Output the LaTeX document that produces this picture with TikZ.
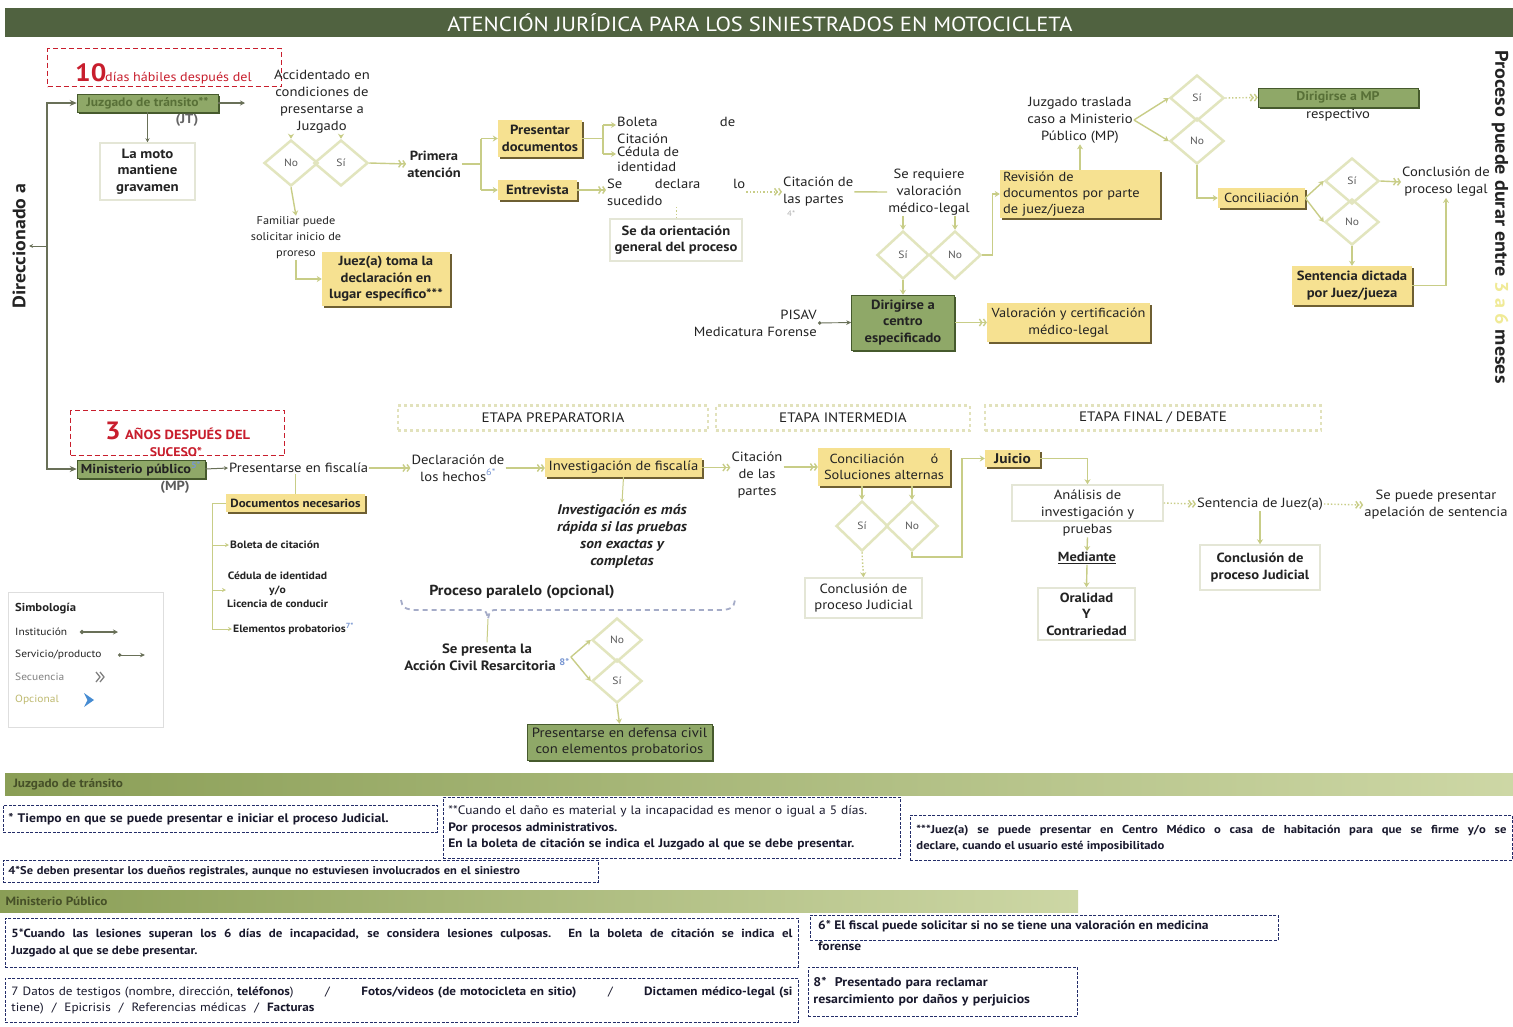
\documentclass[tikz,border=0pt]{standalone}
\usepackage{fontspec}
\setmainfont{PT Sans}[FakeStretch=1.1]
\usetikzlibrary{shapes.geometric,arrows.meta,shadows,calc}

\definecolor{titlebar}{RGB}{80,98,64}
\definecolor{gfill}{RGB}{143,168,104}
\definecolor{gdark}{RGB}{70,90,45}
\definecolor{gtext}{RGB}{40,60,25}
\definecolor{gdim}{RGB}{88,112,55}
\definecolor{yfill}{RGB}{246,225,145}
\definecolor{ydark}{RGB}{110,95,50}
\definecolor{seqc}{RGB}{200,205,135}
\definecolor{dline}{RGB}{226,229,190}
\definecolor{wline}{RGB}{228,230,214}
\definecolor{redc}{RGB}{200,30,45}
\definecolor{navy}{RGB}{35,45,105}
\definecolor{ink}{RGB}{35,35,35}
\definecolor{notec}{RGB}{25,25,45}
\definecolor{stagec}{RGB}{226,226,188}
\definecolor{barA}{RGB}{138,158,86}
\definecolor{barB}{RGB}{205,215,165}
\definecolor{bartext}{RGB}{70,80,40}
\definecolor{instc}{RGB}{105,112,88}
\definecolor{lblue}{RGB}{120,150,210}
\definecolor{paley}{RGB}{240,234,150}
\definecolor{bracec}{RGB}{165,172,200}
\definecolor{legc}{RGB}{222,222,222}
\definecolor{optc}{RGB}{190,185,110}
\definecolor{diatext}{RGB}{90,90,90}
\definecolor{optblue}{RGB}{70,140,210}

\tikzset{
  txt/.style={font=\fontsize{13.3}{17}\selectfont, align=center, inner sep=1pt, text=ink},
  btxt/.style={txt, font=\bfseries\fontsize{13.2}{17}\selectfont},
  gbox/.style={draw=gdark, line width=0.5pt, fill=gfill, text=gtext, align=center, inner sep=1pt,
    font=\bfseries\fontsize{13.3}{16.5}\selectfont,
    drop shadow={shadow xshift=1.8pt, shadow yshift=-1.8pt, fill=gdark, opacity=1}},
  ybox/.style={fill=yfill, text=ink, align=center, inner sep=1pt,
    font=\bfseries\fontsize{13.3}{16.5}\selectfont,
    drop shadow={shadow xshift=1.8pt, shadow yshift=-1.8pt, fill=ydark, opacity=1}},
  wbox/.style={draw=wline, line width=1.5pt, fill=white, text=ink, align=center, inner sep=1pt,
    font=\fontsize{13.3}{16.5}\selectfont},
  dia/.style={diamond, draw=dline, line width=2.5pt, minimum width=54pt, minimum height=46pt,
    inner sep=0pt, text=diatext, font=\fontsize{10.5}{12}\selectfont},
  link/.style={draw=seqc, line width=1.4pt},
  lar/.style={link, -{Stealth[length=5pt,width=6pt]}},
  seq/.style={link, -{Straight Barb[length=2.5pt,width=7pt] Straight Barb[length=2.5pt,width=7pt]}},
  inst/.style={draw=instc, line width=1.6pt},
  serv/.style={draw=instc, line width=0.9pt, {Circle[length=3.5pt]}-{Stealth[length=5pt,width=4.5pt]}},
  stagebox/.style={draw=stagec, line width=2.5pt, dash pattern=on 3pt off 3pt,
    font=\fontsize{13.7}{15}\selectfont, text=ink, inner sep=0pt},
  reddash/.style={draw=redc, line width=1.3pt, dash pattern=on 5pt off 3pt, inner sep=0pt},
  notebox/.style={draw=navy, line width=0.9pt, dash pattern=on 3pt off 1.5pt, anchor=north west,
    inner xsep=5pt, inner ysep=0pt, text=notec, align=left,
    font=\bfseries\fontsize{12.2}{16.5}\selectfont},
  legtext/.style={anchor=west, inner sep=0pt, font=\fontsize{10.4}{12}\selectfont, text=ink},
  smalltxt/.style={txt, font=\bfseries\fontsize{10.6}{13}\selectfont},
}

\begin{document}
\begin{tikzpicture}[x=1pt,y=-1pt]
\useasboundingbox (0,0) rectangle (1513,1026);
\fill[white] (0,0) rectangle (1513,1026);

% ---------- title bar ----------
\fill[titlebar] (5,8) rectangle (1513,37);
\node[font=\fontsize{20.5}{22}\selectfont, text=white] (title) at (760,22.5)
  {ATENCIÓN JURÍDICA PARA LOS SINIESTRADOS EN MOTOCICLETA};

\coordinate (rail) at (47,0);

% ---------- Juzgado de tránsito branch ----------
\node[reddash, anchor=north west, minimum width=234pt, minimum height=38pt] (plazo1) at (47,48) {};
\node[anchor=base west, text=redc, font=\bfseries\fontsize{25}{25}\selectfont, inner sep=0pt] (diez) at (75,81) {10};
\node[anchor=base west, text=redc, font=\fontsize{12.8}{14}\selectfont, inner sep=0pt] (dieztxt) at (105,81) {días hábiles después del};

\node[gbox, minimum width=141pt, minimum height=18pt, text=gdim, font=\bfseries\fontsize{12.3}{13}\selectfont] (jt) at (147.5,103) {Juzgado de tránsito**};
\node[btxt, text=ink!70] (jtab) at (187,120) {(JT)};
\node[wbox, minimum width=95pt, minimum height=57pt, font=\bfseries\fontsize{13.5}{16.5}\selectfont] (moto) at (147.5,171.5) {La moto\\mantiene\\gravamen};
\draw[instc, line width=1pt, -{Stealth[length=4pt,width=4pt]}] (jt.south) -- (moto.north);
\coordinate (jtout) at (245,103);
\draw[inst, line width=1.2pt, -{Stealth[length=5pt,width=5pt]}] (jt.east) -- (jtout);

\node[rotate=90, font=\bfseries\fontsize{18}{20}\selectfont, text=ink] (dirigido) at (19,246) {Direccionado a};

\node[txt] (acc) at (322,102) {Accidentado en\\condiciones de\\presentarse a\\Juzgado};
\node[dia] (dno) at (291,163) {No};
\node[dia] (dsi) at (341,163) {Sí};
\draw[lar] (dno.north |- acc.south) -- (dno.north);
\draw[lar] (dsi.north |- acc.south) -- (dsi.north);

\node[btxt] (pa) at (434,164) {Primera\\atención};
\draw[seq] (dsi.east) -- (pa.west);

\node[txt, font=\fontsize{11.2}{16}\selectfont] (fam) at (296,238) {Familiar puede\\solicitar inicio de\\proreso};
\draw[lar] (dno.south) -- (fam.north);
\node[ybox, minimum width=128pt, minimum height=54pt] (jz) at (386,279) {Juez(a) toma la\\declaración en\\lugar específico***};
\draw[lar] (fam.south) |- (jz.west);

% first attention: documents and interview
\coordinate (br1) at (481,0);
\node[ybox, minimum width=84pt, minimum height=37pt] (pd) at (540,138.5) {Presentar\\documentos};
\node[ybox, minimum width=79pt, minimum height=20pt] (ent) at (537.5,190) {Entrevista};
\draw[link] (pa.east) -- (pa.east -| br1);
\draw[link] (br1 |- pd.west) -- (br1 |- ent.west);
\draw[lar] (br1 |- pd.west) -- (pd.west);
\draw[lar] (br1 |- ent.west) -- (ent.west);

\coordinate (br2) at (603,0);
\node[txt, anchor=north west, text width=118pt, align=left] (bol) at (616,116) {Boleta\hfill de\\Citación};
\node[txt, anchor=north west, align=left, font=\fontsize{13.3}{15}\selectfont] (ced) at (616,146) {Cédula de\\identidad};
\coordinate (bolp) at ($(bol.north west)+(0,9)$);
\coordinate (cedp) at ($(ced.north west)+(0,8)$);
\draw[link] (pd.east) -- (pd.east -| br2);
\draw[link] (br2 |- bolp) -- (br2 |- cedp);
\draw[lar] (br2 |- bolp) -- (bolp);
\draw[lar] (br2 |- cedp) -- (cedp);

\node[txt, anchor=north west, text width=138pt, align=left] (sd) at (606,178) {Se\hfill declara\hfill lo\\sucedido};
\draw[seq] (ent.east) -- (ent.east -| sd.west);
\node[wbox, minimum width=132pt, minimum height=42pt, font=\bfseries\fontsize{13.3}{16.5}\selectfont] (ori) at (676,240) {Se da orientación\\general del proceso};
\draw[link, dotted, line width=1pt] (ori.north |- sd.south) -- (ori.north);

\node[txt, anchor=north west, align=left] (cit) at (782,176) {Citación de\\las partes};
\node[txt, text=ink!35, font=\fontsize{8}{9}\selectfont, anchor=west] (cit4) at (786,214) {4*};
\draw[seq, dotted] (sd.east |- cit.west) -- (cit.west);

\node[txt] (req) at (929,192) {Se requiere\\valoración\\médico-legal};
\draw[link] (cit.east) -- (req.west);
\node[dia, minimum width=52pt, minimum height=48pt] (rsi) at (903,255) {Sí};
\node[dia, minimum width=52pt, minimum height=48pt] (rno) at (955,255) {No};
\draw[lar] (rsi.north |- req.south) -- (rsi.north);
\draw[lar] (rno.north |- req.south) -- (rno.north);

\node[ybox, minimum width=160pt, minimum height=48pt, text width=154pt, align=left, font=\fontsize{13.1}{16}\selectfont] (rev) at (1080,194) {Revisión de\\documentos por parte\\de juez/jueza};
\draw[lar] (rno.east) -- ++(10,0) |- (rev.west);

\node[gbox, minimum width=103pt, minimum height=55pt, text=ink] (dcs) at (903,322.5) {Dirigirse a\\centro\\especificado};
\draw[lar] (rsi.south) -- (dcs.north);
\node[txt, anchor=east, align=right] (pisav) at (818,323) {PISAV\\Medicatura Forense};
\draw[serv] (pisav.east) -- (dcs.west);
\node[ybox, minimum width=163pt, minimum height=39pt, font=\fontsize{13.1}{16.5}\selectfont] (val) at (1068.5,322.5) {Valoración y certificación\\médico-legal};
\draw[seq] (dcs.east) -- (val.west);

\node[txt] (jtr) at (1080,120) {Juzgado traslada\\caso a Ministerio\\Público (MP)};
\draw[lar] (rev.north) -- (jtr.south);
\node[dia] (tsi) at (1197,98) {Sí};
\node[dia] (tno) at (1197,141) {No};
\draw[lar] (jtr.east) -- (tsi.west);
\draw[lar] (jtr.east) -- (tno.west);
\node[gbox, minimum width=160pt, minimum height=19pt, text=gdim, font=\bfseries\fontsize{12.6}{13}\selectfont] (mpr) at (1338,97.5) {Dirigirse a MP};
\node[txt] (mprr) at (1338,115) {respectivo};
\draw[seq, dotted] (tsi.east) -- (mpr.west);

\node[ybox, minimum width=87pt, minimum height=20pt, font=\fontsize{13.1}{14}\selectfont] (con) at (1261.5,198) {Conciliación};
\draw[lar] (tno.south) |- (con.west);
\node[dia] (csi) at (1352,181) {Sí};
\node[dia] (cno) at (1352,222) {No};
\draw[lar] (con.east) -- (csi.west);
\draw[lar] (con.east) -- (cno.west);
\node[txt] (cpl) at (1446,182) {Conclusión de\\proceso legal};
\draw[seq] (csi.east) -- (cpl.west);
\node[ybox, minimum width=120pt, minimum height=39pt] (sen) at (1352,285.5) {Sentencia dictada\\por Juez/jueza};
\draw[lar] (cno.south) -- (sen.north);
\draw[lar] (sen.east) -| (cpl.south);

\node[rotate=-90, font=\bfseries\fontsize{18.3}{20}\selectfont, text=ink] (dur) at (1500,217)
  {Proceso puede durar entre \textcolor{paley}{3 a 6} meses};

% ---------- Ministerio Público branch ----------
\node[reddash, anchor=north west, minimum width=214pt, minimum height=45pt] (plazo2) at (70,410) {};
\node[anchor=base west, text=redc, font=\bfseries\fontsize{25}{25}\selectfont, inner sep=0pt] (tres) at (105,439) {3};
\node[anchor=base west, text=redc, font=\bfseries\fontsize{13.2}{14}\selectfont, inner sep=0pt] (tresa) at (125,439) {AÑOS DESPUÉS DEL};
\node[text=redc, font=\bfseries\fontsize{12.5}{14}\selectfont, inner sep=0pt] (suc) at (176,452) {SUCESO*};

\node[gbox, minimum width=128pt, minimum height=18pt, text=ink, font=\bfseries\fontsize{13}{13}\selectfont] (mp) at (141,469) {Ministerio público\textsuperscript{\color{lblue}5*}};
\node[btxt, text=ink!75] (mpab) at (175,487) {(MP)};

\draw[inst, {Stealth[length=7pt,width=6pt]}-{Stealth[length=7pt,width=6pt]}] (jt.west) -- (jt.west -| rail) |- (mp.west);
\draw[instc, line width=1pt, -{Stealth[length=4pt,width=4pt]}] (rail |- dirigido.center) -- (dirigido.south);

\node[txt, anchor=west] (pf) at (228,468) {Presentarse en fiscalía};
\draw[instc, line width=1pt, -{Stealth[length=4pt,width=4pt]}] (mp.east) -- (pf.west);
\node[txt] (dh) at (458,468) {Declaración de\\los hechos\textsuperscript{\color{lblue}6*}};
\draw[seq] (pf.east) -- (dh.west);

\node[ybox, minimum width=139pt, minimum height=18pt, font=\bfseries\fontsize{11.8}{13}\selectfont] (dn) at (295.5,503) {Documentos necesarios};
\draw[link, line width=1pt] (dn.north |- pf.south) -- (dn.north);
\coordinate (br3) at (212,0);
\node[smalltxt, anchor=west] (bc) at (229,545) {Boleta de citación};
\node[smalltxt, anchor=west, font=\bfseries\fontsize{10.6}{14}\selectfont] (cid) at (226,590) {Cédula de identidad\\y/o\\Licencia de conducir};
\node[smalltxt, anchor=west] (ep) at (232,629) {Elementos probatorios\textsuperscript{\color{lblue}7*}};
\draw[link, line width=1pt] (dn.west) -- (dn.west -| br3) -- (br3 |- ep.west);
\draw[link, line width=1pt, -{Stealth[length=4pt,width=4pt]}] (br3 |- bc.west) -- (bc.west);
\draw[link, line width=1pt, -{Stealth[length=4pt,width=4pt]}] (br3 |- cid.west) -- (cid.west);
\draw[link, line width=1pt, -{Stealth[length=4pt,width=4pt]}] (br3 |- ep.west) -- (ep.west);

\node[stagebox, minimum width=310pt, minimum height=25pt] (s1) at (553,418) {ETAPA PREPARATORIA};
\node[stagebox, minimum width=254pt, minimum height=25pt] (s2) at (843,418) {ETAPA INTERMEDIA};
\node[stagebox, minimum width=336pt, minimum height=25pt] (s3) at (1153,418) {ETAPA FINAL / DEBATE};

\node[ybox, minimum width=157pt, minimum height=19pt, font=\fontsize{13.3}{14}\selectfont] (inv) at (623.5,467.5) {Investigación de fiscalía};
\draw[seq] (dh.east) -- (dh.east -| inv.west);
\node[txt] (cit2) at (757,475) {Citación\\de las\\partes};
\draw[seq] (inv.east) -- (inv.east -| cit2.west);
\node[ybox, minimum width=132pt, minimum height=38pt, font=\fontsize{13.1}{16.5}\selectfont] (csa) at (884,467) {Conciliación\qquad ó\\Soluciones alternas};
\draw[seq] (cit2.east |- csa.west) -- (csa.west);

\node[txt, font=\bfseries\itshape\fontsize{14}{17}\selectfont] (ita) at (622,536) {Investigación es más\\rápida si las pruebas\\son exactas y\\completas};
\draw[link, line width=1pt, -{Stealth[length=4pt,width=4pt]}] (inv.south) -- (ita.north);

\node[dia, minimum width=52pt, minimum height=50pt] (msi) at (862,526) {Sí};
\node[dia, minimum width=52pt, minimum height=50pt] (mno) at (912,526) {No};
\draw[lar] (msi.north |- csa.south) -- (msi.north);
\draw[lar] (mno.north |- csa.south) -- (mno.north);
\node[wbox, minimum width=117pt, minimum height=40pt] (cpj) at (863.5,598) {Conclusión de\\proceso Judicial};
\draw[lar, dotted] (msi.south) -- (cpj.north);

\coordinate (br4) at (962,557);
\node[ybox, minimum width=55pt, minimum height=17pt, font=\bfseries\fontsize{14}{14}\selectfont] (jui) at (1012.5,458.5) {Juicio};
\draw[lar] (mno.south) |- (br4) |- (jui.west);

\node[wbox, minimum width=151pt, minimum height=36pt] (ana) at (1087.5,503) {};
\node[txt] (anat) at (1087.5,513) {Análisis de\\investigación y\\pruebas};
\draw[lar] (jui.east) -| (ana.north);
\node[txt] (sj) at (1260,504) {Sentencia de Juez(a)};
\draw[seq, dotted] (ana.east) -- (sj.west);
\node[txt] (ap) at (1436,505) {Se puede presentar\\apelación de sentencia};
\draw[seq, dotted] (sj.east) -- (ap.west);
\node[wbox, minimum width=120pt, minimum height=45pt, font=\bfseries\fontsize{13.3}{16.5}\selectfont] (cpj2) at (1260,567.5) {Conclusión de\\proceso Judicial};
\draw[lar] (sj.south) -- (cpj2.north);
\node[btxt] (med) at (1087,558) {\underline{Mediante}};
\draw[lar] (anat.south) -- (med.north);
\node[wbox, minimum width=97pt, minimum height=52pt, font=\bfseries\fontsize{13.3}{16.5}\selectfont] (ora) at (1086.5,614) {Oralidad\\Y\\Contrariedad};
\draw[lar] (med.south) -- (ora.north);

% parallel civil action
\node[font=\bfseries\fontsize{14.5}{16}\selectfont, text=ink] (ppo) at (522,592) {Proceso paralelo (opcional)};
\coordinate (btip) at (488,619);
\draw[bracec, line width=1.8pt, dash pattern=on 5pt off 4pt]
  (401,600) .. controls (403,608) .. (413,610) -- (478,610)
  .. controls (486,610) .. (btip) .. controls (490,610) .. (498,610)
  -- (724,610) .. controls (733,608) .. (735,600);
\node[txt, font=\bfseries\fontsize{13.5}{17}\selectfont] (acr) at (487,657) {Se presenta la\\Acción Civil Resarcitoria \textsuperscript{\color{lblue}8*}};
\draw[link, line width=1pt] (btip) -- (acr.north);
\node[dia, minimum width=50pt, minimum height=44pt] (ano) at (617,640) {No};
\node[dia, minimum width=50pt, minimum height=44pt] (asi) at (617,681) {Sí};
\draw[lar] (acr.east) -- (ano.west);
\draw[lar] (acr.east) -- (asi.west);
\node[gbox, minimum width=185pt, minimum height=36pt, text=ink, font=\fontsize{13.4}{16.5}\selectfont] (pdc) at (619.5,742) {Presentarse en defensa civil\\con elementos probatorios};
\draw[lar] (asi.south) -- (pdc.north);

% ---------- legend ----------
\node[draw=legc, line width=1pt, anchor=north west, minimum width=155pt, minimum height=135pt] (leg) at (8,592) {};
\node[legtext, font=\bfseries\fontsize{11.5}{13}\selectfont] (legt) at (15,609) {Simbología};
\node[legtext] (l1) at (15,632) {Institución};
\coordinate (l1a) at (80,632);
\coordinate (l1b) at (118,632);
\draw[instc, line width=1.5pt, {Circle[length=4pt]}-{Stealth[length=5pt,width=5pt]}] (l1a) -- (l1b);
\node[legtext] (l2) at (15,655) {Servicio/producto};
\coordinate (l2a) at (118,655);
\coordinate (l2b) at (145,655);
\draw[serv] (l2a) -- (l2b);
\node[legtext, text=gray] (l3) at (15,677) {Secuencia};
\draw[gray, line width=1.3pt] (96,672) -- (100,677) -- (96,682) (100,672) -- (104,677) -- (100,682);
\node[legtext, text=optc] (l4) at (15,700) {Opcional};
\fill[optblue] (84,693) -- (94,700) -- (84,707) -- (87.5,700) -- cycle;

% ---------- footnotes ----------
\shade[left color=barA, right color=barB] (5,773) rectangle (1513,795);
\node[anchor=west, font=\bfseries\fontsize{12}{13}\selectfont, text=bartext] (bar1) at (10,784) {Juzgado de tránsito};

\node[notebox, minimum width=434pt, minimum height=27pt, text width=424pt, font=\bfseries\fontsize{12.4}{16}\selectfont] (n1) at (3,805)
  {* Tiempo en que se puede presentar e iniciar el proceso Judicial.};
\node[notebox, minimum width=457pt, minimum height=61pt, text width=447pt] (n2) at (443,797)
  {{\mdseries **Cuando el daño es material y la incapacidad es menor o igual a 5 días.}\\Por procesos administrativos.\\En la boleta de citación se indica el Juzgado al que se debe presentar.};
\node[notebox, minimum width=602pt, minimum height=45pt, text width=590pt, align=justify, font=\bfseries\fontsize{11.5}{16}\selectfont] (n3) at (910,815)
  {***Juez(a) se puede presentar en Centro Médico o casa de habitación para que se firme y/o se\linebreak declare, cuando el usuario esté imposibilitado};
\node[notebox, minimum width=595pt, minimum height=22pt, text width=585pt, font=\bfseries\fontsize{11.3}{13}\selectfont] (n4) at (3,860)
  {4*Se deben presentar los dueños registrales, aunque no estuviesen involucrados en el siniestro};

\shade[left color=barA, right color=barB] (0,890) rectangle (1078,912);
\node[anchor=west, font=\bfseries\fontsize{12}{13}\selectfont, text=bartext] (bar2) at (2,901) {Ministerio Público};

\node[notebox, minimum width=793pt, minimum height=49pt, text width=781pt, align=justify, font=\bfseries\fontsize{11.8}{17}\selectfont] (n5) at (5,918)
  {5*Cuando las lesiones superan los 6 días de incapacidad, se considera lesiones culposas. En la boleta de citación se indica el\linebreak Juzgado al que se debe presentar.};
\node[notebox, minimum width=468pt, minimum height=25pt] (n6) at (810,915) {};
\node[anchor=north west, inner sep=0pt, align=left, text=notec, font=\bfseries\fontsize{12.3}{21}\selectfont] (n6t) at (818,920)
  {6* El fiscal puede solicitar si no se tiene una valoración en medicina\\forense};
\node[notebox, minimum width=793pt, minimum height=44pt, text width=781pt, font=\mdseries\fontsize{12}{16.5}\selectfont] (n7) at (5,978)
  {7 Datos de testigos (nombre, dirección, \textbf{teléfonos})\hfill/\hfill\textbf{Fotos/videos (de motocicleta en sitio)}\hfill/\hfill\textbf{Dictamen médico-legal (si}\\tiene)\ \ /\ \ Epicrisis\ \ /\ \ Referencias médicas\ \ /\ \ \textbf{Facturas}};
\node[notebox, minimum width=269pt, minimum height=49pt, text width=259pt, font=\bfseries\fontsize{12.6}{17}\selectfont] (n8) at (808,967)
  {8*\ \ Presentado para reclamar\\resarcimiento por daños y perjuicios};

\end{tikzpicture}
\end{document}
